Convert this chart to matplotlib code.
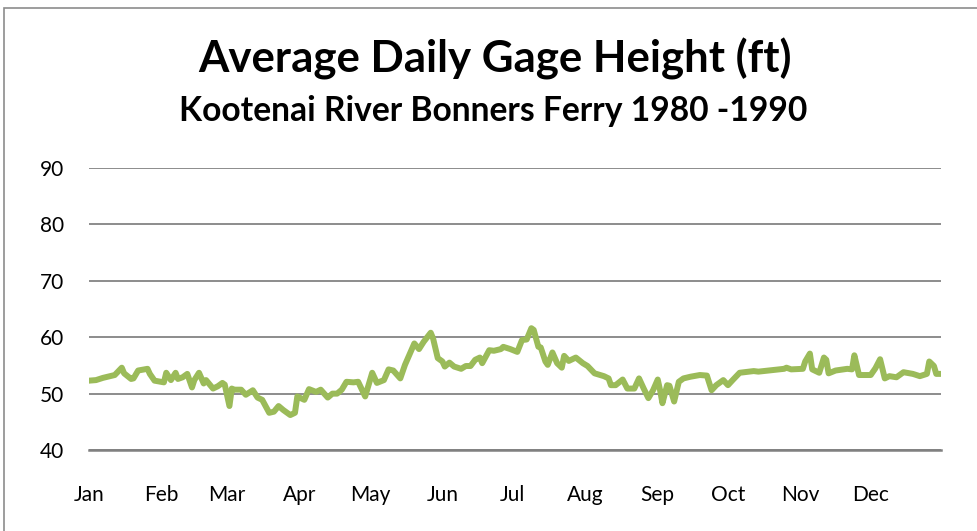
import matplotlib
matplotlib.use("Agg")
import matplotlib.pyplot as plt
from matplotlib.patches import Rectangle

# Day of year (0 = Jan 1) and average gage height (ft)
days = [0, 3, 6, 9, 11, 14, 15, 18, 19, 21, 25, 26, 28, 32, 33, 35, 37, 38,
        40, 42, 44, 45, 47, 49, 50, 53, 55, 57, 58, 60, 61, 62, 65, 67, 70,
        72, 74, 77, 79, 81, 83, 86, 88, 89, 92, 94, 97, 99, 102, 104, 106,
        108, 110, 113, 115, 118, 121, 123, 126, 128, 130, 133, 135, 139, 141,
        143, 146, 147, 149, 151, 152, 154, 156, 159, 161, 163, 165, 167, 168,
        171, 173, 176, 177, 180, 183, 185, 187, 189, 190, 192, 193, 195, 196,
        198, 200, 202, 203, 205, 208, 211, 213, 216, 220, 222, 223, 225, 228,
        230, 233, 235, 237, 239, 241, 243, 244, 245, 247, 248, 250, 252, 254,
        257, 261, 264, 266, 268, 271, 273, 275, 278, 284, 286, 297, 298, 300,
        305, 306, 308, 309, 312, 314, 315, 316, 319, 324, 326, 327, 329, 334,
        336, 338, 340, 342, 345, 348, 352, 355, 358, 359, 361, 362, 364]
gage = [52.3, 52.4, 52.8, 53.1, 53.3, 54.6, 53.6, 52.6, 52.7, 54.1, 54.4, 53.5,
        52.3, 52.0, 53.7, 52.4, 53.7, 52.6, 52.9, 53.5, 51.1, 52.4, 53.7, 51.8,
        52.4, 50.9, 51.3, 51.9, 51.6, 47.8, 50.9, 50.7, 50.7, 49.8, 50.6, 49.3,
        48.9, 46.6, 46.8, 47.8, 47.1, 46.2, 46.6, 49.5, 48.9, 50.8, 50.3, 50.7,
        49.3, 50.0, 50.0, 50.7, 52.1, 52.0, 52.1, 49.5, 53.7, 51.9, 52.4, 54.3,
        54.1, 52.7, 55.1, 58.9, 57.9, 59.2, 60.8, 59.8, 56.3, 55.7, 54.8, 55.5,
        54.8, 54.4, 54.9, 54.9, 56.0, 56.4, 55.4, 57.7, 57.6, 57.9, 58.3, 57.9,
        57.4, 59.5, 59.6, 61.6, 61.3, 58.3, 58.2, 55.7, 55.1, 57.3, 55.4, 54.6,
        56.7, 55.8, 56.4, 55.4, 54.9, 53.6, 53.1, 52.7, 51.5, 51.5, 52.5, 50.9,
        50.9, 52.7, 50.9, 49.2, 50.6, 52.5, 50.6, 48.3, 51.5, 51.4, 48.6, 52.1,
        52.7, 53.0, 53.3, 53.2, 50.6, 51.5, 52.4, 51.5, 52.4, 53.7, 54.0, 53.9,
        54.4, 54.6, 54.3, 54.4, 55.7, 57.1, 54.3, 53.7, 56.4, 56.0, 53.6, 54.1,
        54.4, 54.3, 56.8, 53.3, 53.3, 54.5, 56.1, 52.7, 53.1, 52.9, 53.8, 53.5,
        53.1, 53.5, 55.7, 54.9, 53.5, 53.5]

month_labels = ["Jan", "Feb", "Mar", "Apr", "May", "Jun",
                "Jul", "Aug", "Sep", "Oct", "Nov", "Dec"]
month_starts = [0, 31, 59, 90, 120, 151, 181, 212, 243, 273, 304, 334]
y_ticks = [40, 50, 60, 70, 80, 90]

plt.rcParams["font.family"] = ["Lato", "DejaVu Sans"]

fig = plt.figure(figsize=(9.77, 5.31), dpi=100)
ax = fig.add_axes([0.0911, 0.1525, 0.872, 0.531])

ax.plot(days, gage, color="#9BBB59", linewidth=4.3, solid_joinstyle="round",
        solid_capstyle="round")

ax.set_xlim(0, 364)
ax.set_ylim(40, 90)
ax.set_yticks(y_ticks)
ax.set_xticks(month_starts)
ax.set_xticklabels(month_labels)
ax.tick_params(axis="both", length=0, labelsize=15, colors="black")
ax.tick_params(axis="y", pad=18)
ax.tick_params(axis="x", pad=25)
ax.yaxis.grid(True, color="#8c8c8c", linewidth=1.4)
ax.set_axisbelow(True)
for side in ["top", "right", "left"]:
    ax.spines[side].set_visible(False)
ax.spines["bottom"].set_color("#808080")
ax.spines["bottom"].set_linewidth(1.8)

fig.text(0.507, 0.889, "Average Daily Gage Height (ft)", ha="center",
         va="center", fontsize=31.5, fontweight="bold")
fig.text(0.505, 0.791, "Kootenai River Bonners Ferry 1980 -1990", ha="center",
         va="center", fontsize=24.2, fontweight="bold")

# outer chart border (Excel chart area)
fig.patches.append(Rectangle((4 / 977, -0.05), 1.2, 1 - 8 / 531 + 0.05,
                             transform=fig.transFigure, fill=False,
                             edgecolor="#8c8c8c", linewidth=1.2))

fig.savefig("out.png", dpi=100)
